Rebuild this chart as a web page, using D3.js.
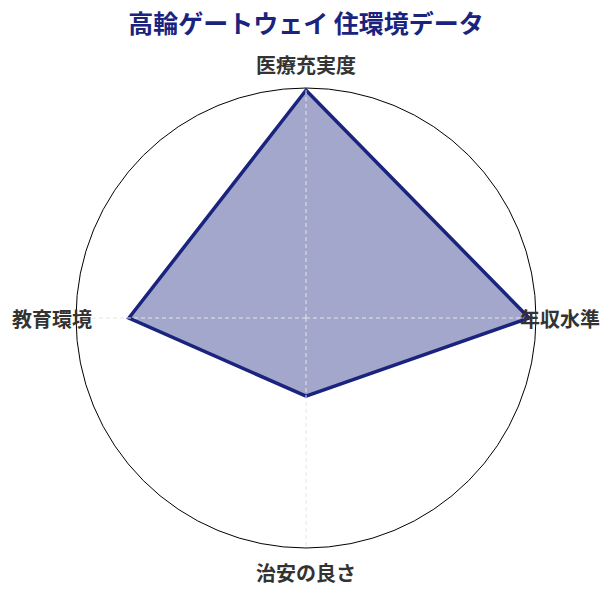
<!DOCTYPE html>
<html>
<head>
<meta charset="utf-8">
<script src="https://cdn.jsdelivr.net/npm/d3@7/dist/d3.min.js"></script>
<style>
  html, body { margin: 0; padding: 0; background: #fff; }
  svg { display: block; font-family: "Noto Sans CJK JP", "Noto Sans", sans-serif; }
</style>
</head>
<body>
<script>
const titleText = "高輪ゲートウェイ 住環境データ";
const categories = ["医療充実度", "年収水準", "治安の良さ", "教育環境"];
const values = [99, 97, 34, 77];
const maxValue = 100;

const W = 612, H = 595;
const cx = 306, cy = 318, R = 230;

const svg = d3.select("body").append("svg").attr("width", W).attr("height", H);

svg.append("text")
  .attr("x", W / 2).attr("y", 22)
  .attr("text-anchor", "middle").attr("dominant-baseline", "central")
  .attr("font-size", 25).attr("font-weight", "bold")
  .attr("fill", "#1a237e")
  .text(titleText);

const g = svg.append("g").attr("transform", `translate(${cx},${cy})`);

const r = d3.scaleLinear().domain([0, maxValue]).range([0, R]);
const angle = d3.scaleBand().domain(categories).range([0, 2 * Math.PI]).align(0).paddingInner(0).paddingOuter(0);
const ang = d => angle(d); // 0 = top, clockwise

// outer circle
g.append("circle").attr("r", R).attr("fill", "none").attr("stroke", "#000").attr("stroke-width", 1);

// polygon
const radial = d3.lineRadial()
  .angle((d, i) => ang(categories[i]))
  .radius(d => r(d))
  .curve(d3.curveLinearClosed);

g.append("path")
  .datum(values)
  .attr("d", radial)
  .attr("fill", "#1a237e").attr("fill-opacity", 0.4)
  .attr("stroke", "#1a237e").attr("stroke-width", 3.5)
  .attr("stroke-linejoin", "miter");

// axis lines (drawn over polygon)
g.selectAll("line.axis").data(categories).join("line")
  .attr("class", "axis")
  .attr("x1", 0).attr("y1", 0)
  .attr("x2", d => R * Math.sin(ang(d)))
  .attr("y2", d => -R * Math.cos(ang(d)))
  .attr("stroke", "#e6e6e6").attr("stroke-width", 1)
  .attr("stroke-dasharray", "4,3");

// labels
g.selectAll("text.lab").data(categories).join("text")
  .attr("class", "lab")
  .attr("x", d => (R + 24) * Math.sin(ang(d)))
  .attr("y", d => -(R + 24) * Math.cos(ang(d)))
  .attr("text-anchor", "middle").attr("dominant-baseline", "central")
  .attr("font-size", 20).attr("font-weight", "bold")
  .attr("fill", "#333")
  .text(d => d);
</script>
</body>
</html>
